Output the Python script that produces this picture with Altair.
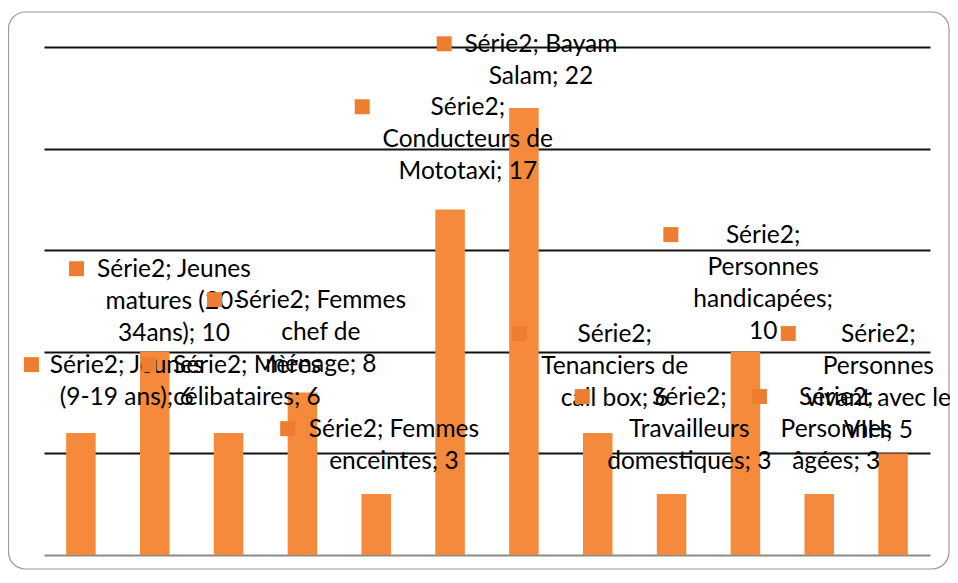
import altair as alt
import pandas as pd

# ---- data ----
series_name = "Série2"
categories = [
    "Jeunes (9-19 ans)", "Jeunes matures (20-34ans)", "Mères célibataires",
    "Femmes chef de ménage", "Femmes enceintes", "Conducteurs de Mototaxi",
    "Bayam Salam", "Tenanciers de call box", "Travailleurs domestiques",
    "Personnes handicapées", "Personnes âgées", "Personnes vivant avec le VIH",
]
values = [6, 10, 6, 8, 3, 17, 22, 6, 3, 10, 3, 5]

# data labels as wrapped in the original
label_texts = [
    "Série2; Jeunes\n(9-19 ans);  6",
    "Série2; Jeunes\nmatures (20-\n34ans);  10",
    "Série2; Mères\ncélibataires;  6",
    "Série2; Femmes\nchef de\nménage;  8",
    "Série2; Femmes\nenceintes;  3",
    "Série2;\nConducteurs de\nMototaxi;  17",
    "Série2; Bayam\nSalam;  22",
    "Série2;\nTenanciers de\ncall box;  6",
    "Série2;\nTravailleurs\ndomestiques;  3",
    "Série2;\nPersonnes\nhandicapées;\n10",
    "Série2;\nPersonnes\nâgées;  3",
    "Série2;\nPersonnes\nvivant avec le\nVIH;  5",
]
# label placement (category units on a 0-12 axis, value units for the first baseline)
label_x = [1.12, 1.76, 2.75, 3.75, 4.74, 5.74, 6.73, 7.73, 8.74, 9.74, 10.73, 11.30]
label_key_x = [-0.17, 0.44, 1.42, 2.31, 3.30, 4.31, 5.42, 6.44, 7.29, 8.49, 9.69, 10.08]
label_y = [8.95, 13.67, 8.95, 12.15, 5.80, 21.64, 24.74, 10.48, 7.38, 15.35, 7.38, 10.48]

df = pd.DataFrame({"cat": categories, "val": values})
lab = pd.DataFrame({"txt": label_texts, "lx": label_x, "kx": label_key_x, "ly": label_y})

BAR = "#F58A3D"
KEY = "#ED7D31"
FONT = "Lato"

W, H = 886, 508

yscale = alt.Scale(domain=[0, 25], nice=False, zero=True)
yaxis = alt.Axis(values=[5, 10, 15, 20, 25], labels=False, ticks=False,
                 domain=False, title=None, grid=True,
                 gridColor="#111111", gridWidth=2)
qscale = alt.Scale(domain=[0, 12], nice=False, zero=False)

bars = alt.Chart(df).mark_bar(color=BAR).encode(
    x=alt.X("cat:N", sort=categories,
            scale=alt.Scale(paddingInner=0.6, paddingOuter=0.3),
            axis=alt.Axis(labels=False, ticks=False, title=None, domain=True,
                          domainColor="#8a8a8a", domainWidth=2, grid=False)),
    y=alt.Y("val:Q", scale=yscale, axis=yaxis),
)

texts = alt.Chart(lab).mark_text(
    font=FONT, fontSize=24.5, color="#000000", align="center", baseline="alphabetic",
    lineBreak="\n", lineHeight=32,
).encode(
    x=alt.X("lx:Q", scale=qscale, axis=None),
    y=alt.Y("ly:Q", scale=yscale, axis=yaxis),
    text="txt:N",
)

keys = alt.Chart(lab).mark_square(
    color=KEY, size=225, opacity=1, filled=True, yOffset=-8.5,
).encode(
    x=alt.X("kx:Q", scale=qscale, axis=None),
    y=alt.Y("ly:Q", scale=yscale, axis=yaxis),
)

border = alt.Chart(pd.DataFrame({"a": [0]})).mark_rect(
    fill=None, stroke="#9a9a9a", strokeWidth=1.2, cornerRadius=17,
).encode(x=alt.value(-35.5), x2=alt.value(905), y=alt.value(-35), y2=alt.value(522))

chart = alt.layer(border, bars, texts, keys).resolve_scale(x="independent").properties(
    width=W, height=H,
    autosize=alt.AutoSizeParams(type="none"),
    padding={"left": 36, "top": 39, "right": 20, "bottom": 15},
).configure_view(stroke=None)

chart.save("out.html", embed_options={"renderer": "svg", "actions": False})
